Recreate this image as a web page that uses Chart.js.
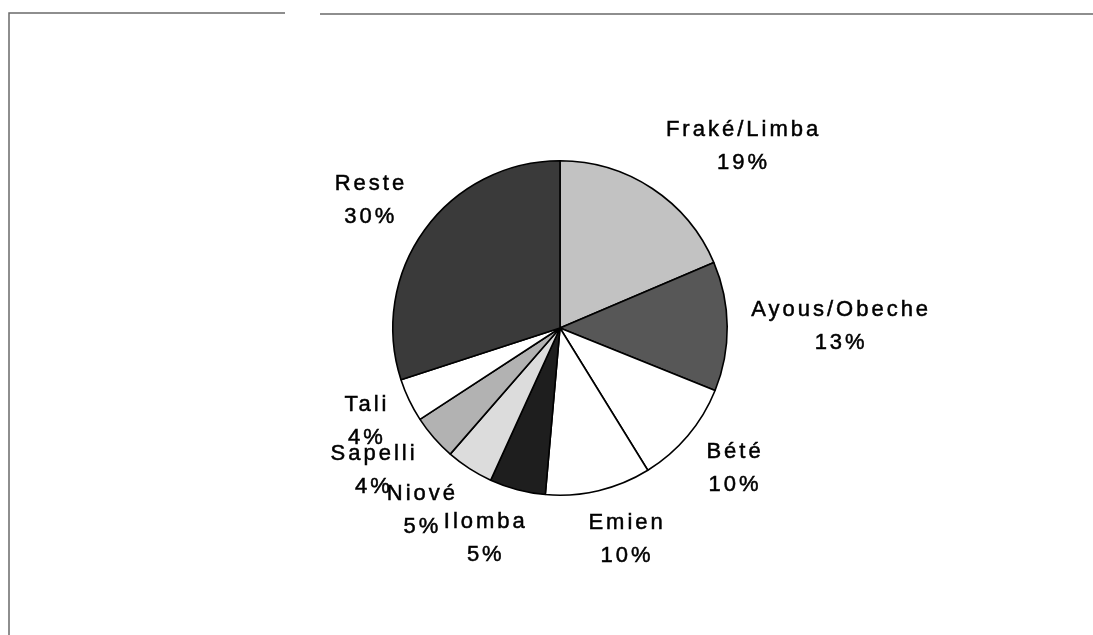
<!DOCTYPE html>
<html>
<head>
<meta charset="utf-8">
<script src="https://cdn.jsdelivr.net/npm/chart.js@4/dist/chart.umd.min.js"></script>
<style>
html,body{margin:0;padding:0;background:#fff;}
#wrap{position:relative;width:1093px;height:635px;}
</style>
</head>
<body>
<div id="wrap"><canvas id="c" width="1093" height="635"></canvas></div>
<script>
const categories = ["Fraké/Limba","Ayous/Obeche","Bété","Emien","Ilomba","Niové","Sapelli","Tali","Reste"];
const shares = [18.6, 12.5, 10.1, 10.2, 5.4, 4.6, 4.4, 4.2, 30.0];
const shareLabels = ["19%","13%","10%","10%","5%","5%","4%","4%","30%"];
const fills = ["#c2c2c2","#575757","#ffffff","#ffffff","#1e1e1e","#dcdcdc","#b2b2b2","#ffffff","#3a3a3a"];

const frame = {
  id: 'frame',
  beforeDraw(chart){
    const ctx = chart.ctx;
    ctx.save();
    ctx.fillStyle = '#fff';
    ctx.fillRect(0,0,chart.width,chart.height);
    ctx.strokeStyle = '#6a6a6a';
    ctx.lineWidth = 1.5;
    ctx.beginPath();
    ctx.moveTo(9, 635); ctx.lineTo(9, 13); ctx.lineTo(285, 13);
    ctx.moveTo(320, 14); ctx.lineTo(1093, 14);
    ctx.stroke();
    ctx.restore();
  }
};

const outsideLabels = {
  id: 'outsideLabels',
  afterDatasetsDraw(chart){
    const ctx = chart.ctx;
    const meta = chart.getDatasetMeta(0);
    ctx.save();
    ctx.font = '22px "Liberation Sans", Arial, sans-serif';
    ctx.letterSpacing = '3px';
    ctx.fillStyle = '#000';
    ctx.strokeStyle = '#000';
    ctx.lineWidth = 0.5;
    ctx.textAlign = 'center';
    ctx.textBaseline = 'middle';
    const gapX = 23, gapY = 32, lh = 33, vScale = 0.93;
    const clamp = v => Math.max(-1, Math.min(1, v));
    meta.data.forEach((arc, i) => {
      const p = arc.getProps(['x','y','startAngle','endAngle','outerRadius'], true);
      const mid = (p.startAngle + p.endAngle) / 2;
      const dx = Math.cos(mid), dy = Math.sin(mid);
      const l1 = categories[i], l2 = shareLabels[i];
      const w = Math.max(ctx.measureText(l1).width, ctx.measureText(l2).width);
      const hw = w / 2, hh = 32;
      const ax = p.x + (p.outerRadius + gapX) * dx;
      const ay = p.y + (p.outerRadius + gapY) * dy * vScale;
      const cx = ax + hw * clamp(dx * 2.5) + 1, cy = ay + hh * dy;
      [[l1, cy - lh/2], [l2, cy + lh/2]].forEach(([t, ty]) => {
        ctx.fillText(t, cx, ty);
        ctx.strokeText(t, cx, ty);
      });
    });
    ctx.restore();
  }
};

new Chart(document.getElementById('c'), {
  type: 'pie',
  data: {
    labels: categories,
    datasets: [{
      data: shares,
      backgroundColor: fills,
      borderColor: '#000',
      borderWidth: 1.6
    }]
  },
  options: {
    responsive: false,
    animation: false,
    layout: { padding: { top: 160, bottom: 139, left: 27, right: 0 } },
    plugins: {
      legend: { display: false },
      tooltip: { enabled: false },
      title: { display: false }
    }
  },
  plugins: [frame, outsideLabels]
});
</script>
</body>
</html>
